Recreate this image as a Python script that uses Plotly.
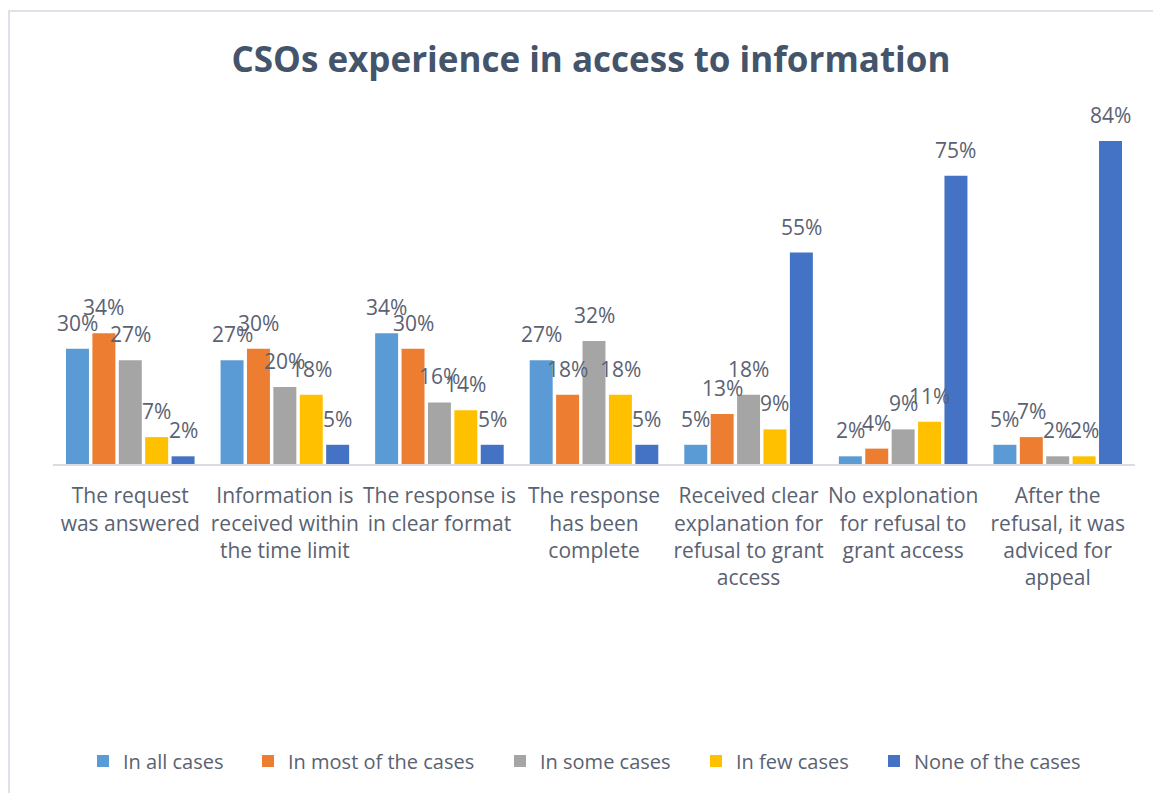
import plotly.graph_objects as go

categories = [
    "The request<br>was answered",
    "Information is<br>received within<br>the time limit",
    "The response is<br>in clear format",
    "The response<br>has been<br>complete",
    "Received clear<br>explanation for<br>refusal to grant<br>access",
    "No explonation<br>for refusal to<br>grant access",
    "After the<br>refusal, it was<br>adviced for<br>appeal",
]
series_names = ["In all cases", "In most of the cases", "In some cases", "In few cases", "None of the cases"]
in_all = [30, 27, 34, 27, 5, 2, 5]
in_most = [34, 30, 30, 18, 13, 4, 7]
in_some = [27, 20, 16, 32, 18, 9, 2]
in_few = [7, 18, 14, 18, 9, 11, 2]
none_cases = [2, 5, 5, 5, 55, 75, 84]
colors = ["#5B9BD5", "#ED7D31", "#A5A5A5", "#FFC000", "#4472C4"]

OFF = 8  # page body margin
W, H = 1161 - OFF, 793 - OFF
L, R, B = 45, 26, 329
YMAX = 90
ph = 346
T = H - B - ph
pw = W - L - R
BARGAP, GROUPGAP = 0.146, 0.13

def px_x(x):  # reference page px -> paper
    return (x - OFF - L) / pw

def px_y(y):
    return (H - B - (y - OFF)) / ph

label_color = "#5A6272"
all_vals = [in_all, in_most, in_some, in_few, none_cases]

fig = go.Figure()
legend_text_x = [123, 288, 540, 736, 914]
legends = {}
for i, (name, vals, col) in enumerate(zip(series_names, all_vals, colors)):
    lname = "legend" if i == 0 else f"legend{i+1}"
    fig.add_trace(go.Bar(
        name=name, x=categories, y=vals,
        marker=dict(color=col, line=dict(width=0)),
        legend=lname, hoverinfo="x+y",
    ))
    legends[lname] = dict(
        x=px_x(legend_text_x[i] - 40), xanchor="left",
        y=px_y(761), yanchor="middle", orientation="h",
        font=dict(size=20, color=label_color), bgcolor="rgba(0,0,0,0)",
    )

# data labels as annotations placed on each bar's slot
cw = pw / len(categories)
slot = cw * (1 - BARGAP) / len(series_names)
annotations = []
for i, vals in enumerate(all_vals):
    for c, v in zip(categories, vals):
        annotations.append(dict(
            x=c, y=v, xref="x", yref="y", text=f"{v}%", showarrow=False,
            xanchor="center", yanchor="bottom", xshift=(i - 2) * slot, yshift=10,
            font=dict(size=21, color=label_color, family="Open Sans"),
        ))

fig.update_layout(
    width=W, height=H,
    margin=dict(l=L, r=R, t=T, b=B),
    paper_bgcolor="white", plot_bgcolor="white",
    barmode="group", bargap=BARGAP, bargroupgap=GROUPGAP,
    font=dict(family="Open Sans", color=label_color),
    title=dict(text="<b>CSOs experience in access to information</b>",
               x=(591 - OFF) / W, xanchor="center", y=1 - (60 - OFF) / H, yanchor="middle",
               font=dict(size=35, color="#44546A", family="Open Sans")),
    xaxis=dict(showline=True, linecolor="#D9DDE3", linewidth=2, ticks="",
               tickfont=dict(size=21, color=label_color), showgrid=False,
               tickangle=0, ticklabelstandoff=12),
    yaxis=dict(range=[0, YMAX], visible=False, showgrid=False),
    annotations=annotations,
    shapes=[dict(type="rect", xref="paper", yref="paper",
                 x0=px_x(9), x1=px_x(1200), y0=px_y(830), y1=px_y(11),
                 line=dict(color="#DDE1EA", width=2), layer="below")],
    showlegend=True,
    **legends,
)
fig.write_html("out.html")
